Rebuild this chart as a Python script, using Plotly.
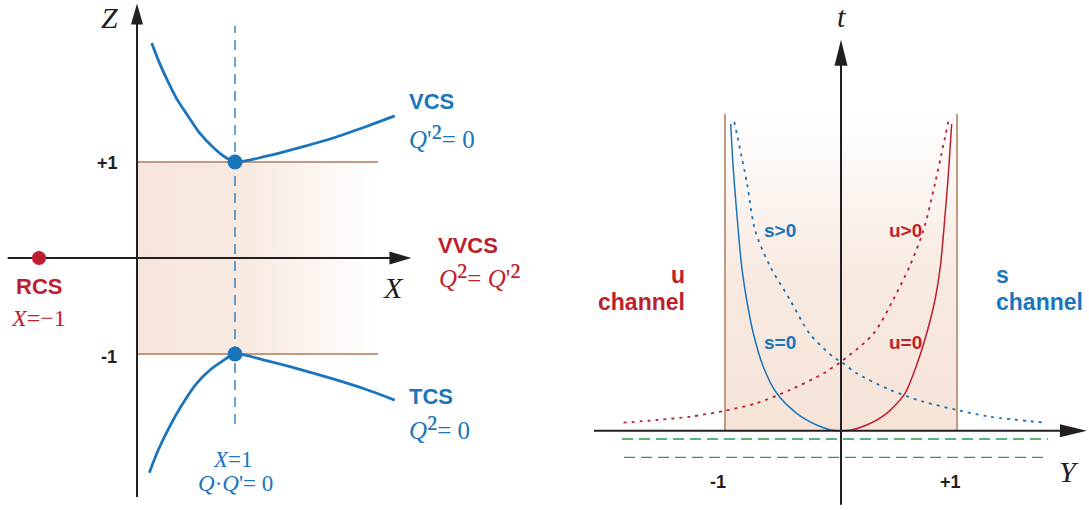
import plotly.graph_objects as go

# ---------------- figure geometry ----------------
W, H = 1089, 510
SPLIT = 540 / W

LX_RANGE = [-1.398, 4.112]
LZ_RANGE = [-2.625, 2.6875]
RY_RANGE = [-2.595, 2.138]
RT_RANGE = [-0.793, 4.307]

# ---------------- left panel data (X, Z) ----------------
X_AXIS_EXTENT = [-1.32, 2.80]
Z_AXIS_EXTENT = [-2.49, 2.65]
BAND_X = [0.0, 2.46]
BAND_Z = [-1.0, 1.0]
DASH_X = 1.0
DASH_Z = [-1.73, 2.42]

vcs_x = [0.15, 0.23, 0.32, 0.41, 0.52, 0.64, 0.80, 0.90, 1.00, 1.32, 1.66, 2.00, 2.34, 2.63]
vcs_z = [2.24, 2.03, 1.83, 1.65, 1.48, 1.30, 1.13, 1.05, 1.00, 1.06, 1.15, 1.25, 1.37, 1.48]

tcs_x = [0.126, 0.217, 0.388, 0.49, 0.609, 0.745, 0.864, 1.00, 1.32, 1.66, 2.00, 2.34, 2.63]
tcs_z = [-2.236, -2.00, -1.653, -1.479, -1.306, -1.167, -1.08, -1.00, -1.07, -1.16, -1.26, -1.37, -1.48]

dots_x = [1.0, 1.0]
dots_z = [1.0, -1.0]
rcs_x = [-1.0]
rcs_z = [0.0]

# ---------------- right panel data (Y, t) ----------------
Y_AXIS_EXTENT = [-2.13, 2.12]
T_AXIS_EXTENT = [-0.74, 3.91]
RBAND_Y = [-1.0, 1.0]
RBAND_T = [0.0, 3.17]

s0_y = [-0.951, -0.93, -0.908, -0.856, -0.813, -0.756, -0.670, -0.554, -0.382, -0.21, -0.09, 0.0]
s0_t = [3.067, 2.64, 2.307, 1.64, 1.307, 0.974, 0.64, 0.374, 0.174, 0.057, 0.008, 0.0]

u0_y = [0.0, 0.09, 0.221, 0.394, 0.552, 0.647, 0.739, 0.81, 0.856, 0.908, 0.93, 0.954]
u0_t = [0.0, 0.008, 0.057, 0.174, 0.374, 0.64, 0.974, 1.307, 1.64, 2.307, 2.64, 3.067]

sp_y = [-0.92, -0.81, -0.74, -0.61, -0.44, -0.27, -0.07, 0.0, 0.135, 0.42, 0.71, 1.0, 1.28, 1.77]
sp_t = [3.09, 2.47, 2.0, 1.64, 1.31, 0.97, 0.74, 0.69, 0.574, 0.41, 0.29, 0.207, 0.14, 0.08]

up_y = [-1.875, -1.59, -1.30, -1.0, -0.73, -0.44, -0.15, 0.0, 0.28, 0.45, 0.59, 0.71, 0.81, 0.925]
up_t = [0.08, 0.107, 0.14, 0.2, 0.274, 0.407, 0.574, 0.69, 0.97, 1.31, 1.64, 2.0, 2.47, 3.09]

green_y = [[-1.888, 1.784], [-1.87, 1.784]]
green_t = [-0.083, -0.266]

# ---------------- colours ----------------
BLUE = "#1a75bc"
RED = "#be1e2d"
BROWN = "#c39a80"
AXIS = "#231f20"
GREEN1 = "#55b676"
GREEN2 = "#2e9a52"
SANS = "Liberation Sans, Arial, sans-serif"
SERIF = "Liberation Serif, Times New Roman, serif"

fig = go.Figure()

sx_l = 540 / (LX_RANGE[1] - LX_RANGE[0])
sz_l = H / (LZ_RANGE[1] - LZ_RANGE[0])
sy_r = (W - 540) / (RY_RANGE[1] - RY_RANGE[0])
st_r = H / (RT_RANGE[1] - RT_RANGE[0])


def add(tr, right=False):
    tr.update(xaxis="x2" if right else "x", yaxis="y2" if right else "y",
              showlegend=False, hoverinfo="skip")
    fig.add_trace(tr)


def arrow_h(x_tip, y, sx, sy, right=False, L=22, hw=6.5):
    b = x_tip - L / sx
    add(go.Scatter(x=[b, x_tip, b, b], y=[y + hw / sy, y, y - hw / sy, y + hw / sy],
                   mode="lines", fill="toself", fillcolor=AXIS, line=dict(width=0)), right)
    return b


def arrow_v(x, y_tip, sx, sy, right=False, L=22, hw=6.5):
    b = y_tip - L / sy
    add(go.Scatter(x=[x - hw / sx, x, x + hw / sx, x - hw / sx], y=[b, y_tip, b, b],
                   mode="lines", fill="toself", fillcolor=AXIS, line=dict(width=0)), right)
    return b


# ===== LEFT PANEL =====
add(go.Scatter(x=[BAND_X[0], BAND_X[1], BAND_X[1], BAND_X[0], BAND_X[0]],
               y=[BAND_Z[0], BAND_Z[0], BAND_Z[1], BAND_Z[1], BAND_Z[0]],
               mode="none", fill="toself",
               fillgradient=dict(type="horizontal",
                                 colorscale=[[0, "rgb(246,229,218)"], [0.45, "rgb(248,234,225)"],
                                             [1, "rgb(255,255,255)"]])))
for zz in BAND_Z:
    add(go.Scatter(x=BAND_X, y=[zz, zz], mode="lines", line=dict(color=BROWN, width=2)))

add(go.Scatter(x=[DASH_X, DASH_X], y=DASH_Z, mode="lines",
               line=dict(color=BLUE, width=1.3, dash="10px,7px")))

bx = arrow_h(X_AXIS_EXTENT[1], 0, sx_l, sz_l, L=22, hw=6.5)
add(go.Scatter(x=[X_AXIS_EXTENT[0], bx + 0.02], y=[0, 0], mode="lines", line=dict(color=AXIS, width=2)))
bz = arrow_v(0, Z_AXIS_EXTENT[1], sx_l, sz_l, L=21, hw=6)
add(go.Scatter(x=[0, 0], y=[Z_AXIS_EXTENT[0], bz + 0.02], mode="lines", line=dict(color=AXIS, width=2)))

add(go.Scatter(x=vcs_x, y=vcs_z, mode="lines", line=dict(color=BLUE, width=2.8, shape="spline", smoothing=0.8)))
add(go.Scatter(x=tcs_x, y=tcs_z, mode="lines", line=dict(color=BLUE, width=2.8, shape="spline", smoothing=0.8)))
add(go.Scatter(x=dots_x, y=dots_z, mode="markers", marker=dict(color=BLUE, size=15)))
add(go.Scatter(x=rcs_x, y=rcs_z, mode="markers", marker=dict(color=RED, size=14)))

# ===== RIGHT PANEL =====
add(go.Scatter(x=[RBAND_Y[0], RBAND_Y[1], RBAND_Y[1], RBAND_Y[0], RBAND_Y[0]],
               y=[RBAND_T[0], RBAND_T[0], RBAND_T[1], RBAND_T[1], RBAND_T[0]],
               mode="none", fill="toself",
               fillgradient=dict(type="vertical",
                                 colorscale=[[0, "rgb(245,227,215)"], [0.5, "rgb(248,234,225)"],
                                             [1, "rgb(255,255,255)"]])), True)
for yy in RBAND_Y:
    add(go.Scatter(x=[yy, yy], y=RBAND_T, mode="lines", line=dict(color=BROWN, width=2)), True)

add(go.Scatter(x=green_y[0], y=[green_t[0]] * 2, mode="lines",
               line=dict(color=GREEN1, width=2, dash="11px,6px")), True)
add(go.Scatter(x=green_y[1], y=[green_t[1]] * 2, mode="lines",
               line=dict(color=GREEN2, width=1.3, dash="11px,6px")), True)

add(go.Scatter(x=sp_y, y=sp_t, mode="lines",
               line=dict(color=BLUE, width=1.8, dash="3px,5px", shape="spline", smoothing=0.8)), True)
add(go.Scatter(x=up_y, y=up_t, mode="lines",
               line=dict(color=RED, width=1.8, dash="3px,5px", shape="spline", smoothing=0.8)), True)
add(go.Scatter(x=s0_y, y=s0_t, mode="lines", line=dict(color=BLUE, width=1.5, shape="spline", smoothing=0.8)), True)
add(go.Scatter(x=u0_y, y=u0_t, mode="lines", line=dict(color=RED, width=1.5, shape="spline", smoothing=0.8)), True)

by = arrow_h(Y_AXIS_EXTENT[1], 0, sy_r, st_r, True, L=27, hw=6.5)
add(go.Scatter(x=[Y_AXIS_EXTENT[0], by + 0.02], y=[0, 0], mode="lines", line=dict(color=AXIS, width=2)), True)
bt = arrow_v(0, T_AXIS_EXTENT[1], sy_r, st_r, True, L=26, hw=6.5)
add(go.Scatter(x=[0, 0], y=[T_AXIS_EXTENT[0], bt + 0.02], mode="lines", line=dict(color=AXIS, width=2)), True)

# ---------------- text ----------------
ann = []


def txt(x, y, text, right=False, size=22, color=AXIS, font=SANS, xa="center", ya="middle", align="center"):
    ann.append(dict(x=x, y=y, text=text, showarrow=False, xref="x2" if right else "x",
                    yref="y2" if right else "y", xanchor=xa, yanchor=ya, align=align,
                    font=dict(family=font, size=size, color=color)))


B = lambda s: "<b>" + s + "</b>"
SUP2 = '<span style="font-size:34px">²</span>'
# left
txt(-0.276, 2.51, "<i>Z</i>", size=30, font=SERIF)
txt(2.62, -0.31, "<i>X</i>", size=30, font=SERIF)
txt(-0.173, 0.99, B("+1"), size=18, xa="right")
txt(-0.181, -1.03, B("-1"), size=18, xa="right")
txt(-0.997, -0.30, B("RCS"), size=22, color=RED)
txt(-1.007, -0.625, "<i>X</i>=−1", size=24, color=RED, font=SERIF)
txt(2.752, 1.628, B("VCS"), size=22, color=BLUE, xa="left")
txt(2.755, 1.27, "<i>Q</i>'" + SUP2 + "= 0", size=25, color=BLUE, font=SERIF, xa="left")
txt(3.05, 0.135, B("VVCS"), size=22, color=RED, xa="left")
txt(3.06, -0.18, "<i>Q</i>" + SUP2 + "= <i>Q</i>'" + SUP2, size=25, color=RED, font=SERIF, xa="left")
txt(2.755, -1.44, B("TCS"), size=22, color=BLUE, xa="left")
txt(2.755, -1.77, "<i>Q</i>" + SUP2 + "= 0", size=25, color=BLUE, font=SERIF, xa="left")
txt(0.98, -2.095, "<i>X</i>=1", size=23, color=BLUE, font=SERIF)
txt(1.0, -2.345, "<i>Q</i>·<i>Q</i>'= 0", size=23, color=BLUE, font=SERIF)
# right
txt(0.006, 4.14, "<i>t</i>", True, size=30, font=SERIF)
txt(1.966, -0.403, "<i>Y</i>", True, size=30, font=SERIF)
txt(-1.06, -0.513, B("-1"), True, size=18)
txt(0.948, -0.513, B("+1"), True, size=18)
txt(-1.328, 1.557, B("u"), True, size=23, color=RED, xa="right")
txt(-1.328, 1.29, B("channel"), True, size=23, color=RED, xa="right")
txt(1.319, 1.557, B("s"), True, size=23, color=BLUE, xa="left")
txt(1.319, 1.29, B("channel"), True, size=23, color=BLUE, xa="left")
txt(-0.684, 2.007, B("s>0"), True, size=19, color=BLUE, xa="left")
txt(-0.684, 0.88, B("s=0"), True, size=19, color=BLUE, xa="left")
txt(0.394, 2.007, B("u>0"), True, size=19, color=RED, xa="left")
txt(0.394, 0.88, B("u=0"), True, size=19, color=RED, xa="left")

ax_common = dict(visible=False, fixedrange=True)
fig.update_layout(
    width=W, height=H, margin=dict(l=0, r=0, t=0, b=0),
    paper_bgcolor="white", plot_bgcolor="white",
    xaxis=dict(domain=[0, SPLIT], range=LX_RANGE, **ax_common),
    yaxis=dict(domain=[0, 1], range=LZ_RANGE, **ax_common),
    xaxis2=dict(domain=[SPLIT, 1], range=RY_RANGE, anchor="y2", **ax_common),
    yaxis2=dict(domain=[0, 1], range=RT_RANGE, anchor="x2", **ax_common),
    annotations=ann, showlegend=False,
)
fig.write_html("out.html", config={"displayModeBar": False},
               post_script="document.body.style.margin='0px';document.body.style.overflow='hidden';")
